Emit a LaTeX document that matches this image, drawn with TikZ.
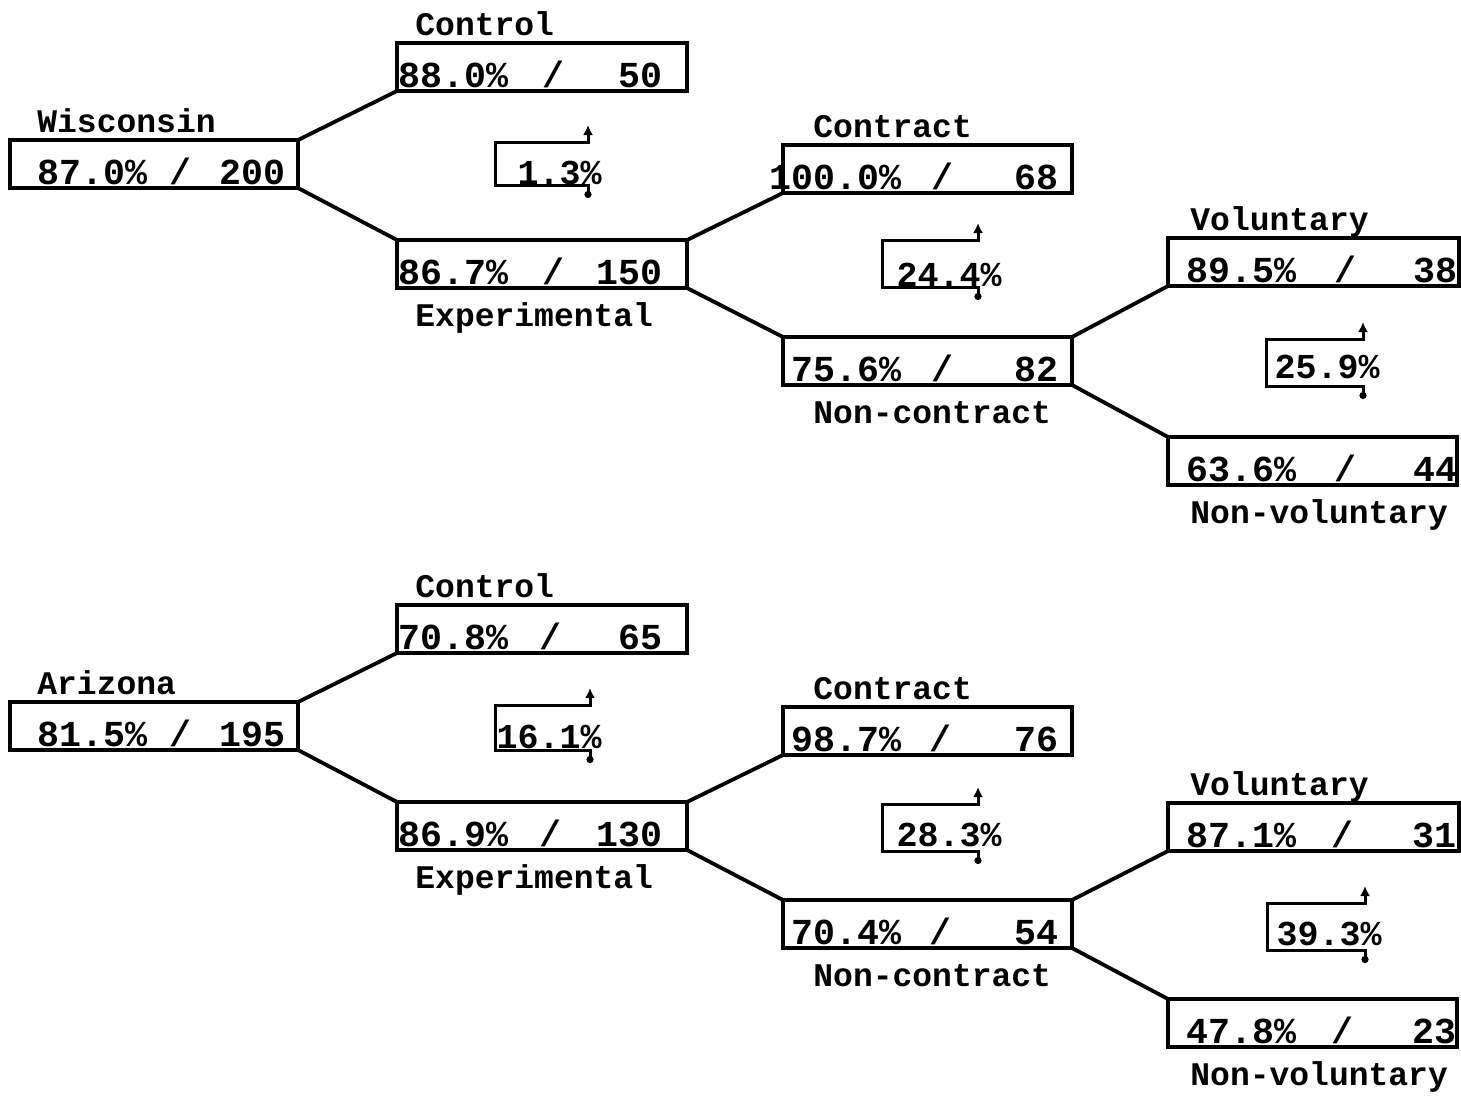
\documentclass[tikz,border=0pt]{standalone}
\usepackage{fontspec}
\setmonofont{Liberation Mono}
\usetikzlibrary{calc,arrows.meta}

% Column-dependent text offsets (in picture units, from the box's left edge)
\newcommand{\pctoff}{0}
\newcommand{\slashoff}{0}
\newcommand{\cntoff}{0}
\newcommand{\lbloff}{0}
\newcommand{\setcol}[4]{%
  \renewcommand{\pctoff}{#1}\renewcommand{\slashoff}{#2}%
  \renewcommand{\cntoff}{#3}\renewcommand{\lbloff}{#4}}

% A result box: name, left, top, width (pt), percentage, count
\newcommand{\resbox}[6]{%
  \node[databox, minimum width=#4, anchor=north west] (#1) at (#2,#3) {};
  \node[boxtext, anchor=base east] (#1-p) at ($(#1.south west)+(\pctoff,-4)$) {#5};
  \node[boxtext, anchor=base] (#1-s) at ($(#1.south west)+(\slashoff,-4)$) {/};
  \node[boxtext, anchor=base east] (#1-n) at ($(#1.south west)+(\cntoff,-4)$) {#6};
}
% Group labels above and below a box
\newcommand{\labelabove}[2]{%
  \node[grouplabel, anchor=base west] (#1-lab) at ($(#1.north west)+(\lbloff,-8)$) {#2};}
\newcommand{\labelbelow}[2]{%
  \node[grouplabel, anchor=base west] (#1-lab) at ($(#1.south west)+(\lbloff,38)$) {#2};}

% Difference marker: name, left, top, right, bottom, text, text right x, baseline y
\newcommand{\diffmark}[8]{%
  \draw[bracket] (#4,#5+13) -- (#4,#5) -- (#2,#5) -- (#2,#3) -- (#4,#3) -- (#4,#3-17);
  \node[difftext, anchor=base east] (#1) at (#7,#8) {#6};
}

\tikzset{
  databox/.style={draw, line width=1.8pt, minimum height=24pt, inner sep=0pt, outer sep=0pt},
  boxtext/.style={font=\ttfamily\bfseries\fontsize{18.3pt}{20pt}\selectfont, inner sep=0pt},
  grouplabel/.style={font=\ttfamily\bfseries\fontsize{16.5pt}{18pt}\selectfont, inner sep=0pt},
  difftext/.style={font=\ttfamily\bfseries\fontsize{17.5pt}{19pt}\selectfont, inner sep=0pt},
  conn/.style={line width=1.9pt},
  bracket/.style={line width=1.5pt, {Circle[length=3.5pt]}-{Latex[length=5pt,width=5pt]}},
}

\begin{document}
\begin{tikzpicture}[x=0.5pt,y=-0.5pt]
  \useasboundingbox (0,0) rectangle (1461,1098);

  % ---------------- Wisconsin ----------------
  \setcol{138}{170}{276}{27}
  \resbox{W}{10}{140}{144pt}{87.0\%}{200}
  \labelabove{W}{Wisconsin}

  \setcol{112}{156}{266}{18}
  \resbox{WC}{397}{43}{145pt}{88.0\%}{50}
  \labelabove{WC}{Control}
  \resbox{WE}{397}{240}{145pt}{86.7\%}{150}
  \labelbelow{WE}{Experimental}

  \setcol{119}{159}{276}{30}
  \resbox{WK}{783}{145}{144.5pt}{100.0\%}{68}
  \labelabove{WK}{Contract}
  \resbox{WN}{783}{337}{144.5pt}{75.6\%}{82}
  \labelbelow{WN}{Non-contract}

  \setcol{129}{177}{290}{22}
  \resbox{WV}{1168}{238}{145.5pt}{89.5\%}{38}
  \labelabove{WV}{Voluntary}
  \resbox{WU}{1168}{437}{144.5pt}{63.6\%}{44}
  \labelbelow{WU}{Non-voluntary}

  \draw[conn] (W.north east) -- (WC.south west);
  \draw[conn] (W.south east) -- (WE.north west);
  \draw[conn] (WE.north east) -- (WK.south west);
  \draw[conn] (WE.south east) -- (WN.north west);
  \draw[conn] (WN.north east) -- (WV.south west);
  \draw[conn] (WN.south east) -- (WU.north west);

  \diffmark{WD1}{495}{142}{588}{185}{1.3\%}{602}{184}
  \diffmark{WD2}{882}{240}{978}{287}{24.4\%}{1002}{286}
  \diffmark{WD3}{1266}{339}{1363}{386}{25.9\%}{1380}{378}

  % ---------------- Arizona ----------------
  \setcol{138}{170}{276}{27}
  \resbox{A}{10}{702}{144pt}{81.5\%}{195}
  \labelabove{A}{Arizona}

  \setcol{112}{153}{266}{18}
  \resbox{AC}{397}{605}{145pt}{70.8\%}{65}
  \labelabove{AC}{Control}
  \resbox{AE}{397}{802}{145pt}{86.9\%}{130}
  \labelbelow{AE}{Experimental}

  \setcol{119}{157}{276}{30}
  \resbox{AK}{783}{707}{144.5pt}{98.7\%}{76}
  \labelabove{AK}{Contract}
  \resbox{AN}{783}{900}{144.5pt}{70.4\%}{54}
  \labelbelow{AN}{Non-contract}

  \setcol{129}{174}{289}{22}
  \resbox{AV}{1168}{803}{145.5pt}{87.1\%}{31}
  \labelabove{AV}{Voluntary}
  \resbox{AU}{1168}{999}{144.5pt}{47.8\%}{23}
  \labelbelow{AU}{Non-voluntary}

  \draw[conn] (A.north east) -- (AC.south west);
  \draw[conn] (A.south east) -- (AE.north west);
  \draw[conn] (AE.north east) -- (AK.south west);
  \draw[conn] (AE.south east) -- (AN.north west);
  \draw[conn] (AN.north east) -- (AV.south west);
  \draw[conn] (AN.south east) -- (AU.north west);

  \diffmark{AD1}{495}{705}{590}{750}{16.1\%}{602}{748}
  \diffmark{AD2}{882}{804}{978}{851}{28.3\%}{1002}{846}
  \diffmark{AD3}{1267}{903}{1365}{950}{39.3\%}{1382}{945}
\end{tikzpicture}
\end{document}
